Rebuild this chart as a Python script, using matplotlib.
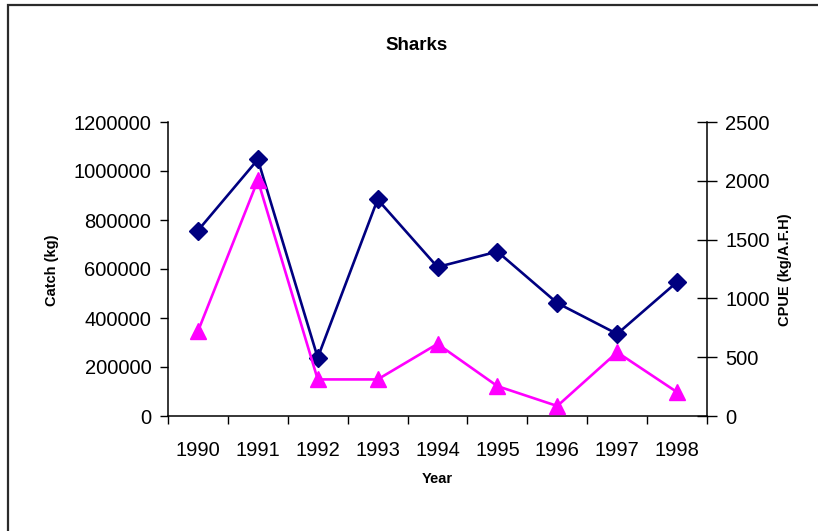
import matplotlib
matplotlib.use("Agg")
import matplotlib.pyplot as plt
from matplotlib.patches import Rectangle
from matplotlib.ticker import FixedLocator, NullFormatter

plt.rcParams["font.family"] = ["Liberation Sans", "DejaVu Sans"]

years = ["1990", "1991", "1992", "1993", "1994", "1995", "1996", "1997", "1998"]
catch_kg = [757000, 1047000, 238000, 884000, 608000, 671000, 461000, 335000, 547000]
cpue = [720, 2005, 311, 311, 613, 254, 85, 542, 203]

W, H = 818, 531
fig = plt.figure(figsize=(W / 100, H / 100), dpi=100)
fig.patch.set_facecolor("white")

# chart-area frame, runs off the right and bottom edges
fig.add_artist(Rectangle((7.5 / W, -0.05), 1.1, 1 - 5.5 / H + 0.05,
                         transform=fig.transFigure, fill=False,
                         edgecolor="#2b2b2b", lw=1.6))

ax = fig.add_axes([168 / W, 1 - 416 / H, (707 - 168) / W, (416 - 122) / H])
ax2 = ax.twinx()

x = range(len(years))
ax.plot(x, catch_kg, color="#000080", lw=1.9, marker="D", ms=9,
        markeredgecolor="#000080", zorder=3)
ax2.plot(x, cpue, color="#FF00FF", lw=1.9, marker="^", ms=11,
         markeredgecolor="#FF00FF", zorder=3)

ax.set_xlim(-0.5, len(years) - 0.5)
ax.set_ylim(0, 1200000)
ax.set_yticks(range(0, 1200001, 200000))
ax.set_yticklabels([str(v) for v in range(0, 1200001, 200000)])
ax2.set_ylim(0, 2500)
ax2.set_yticks(range(0, 2501, 500))

# category boundaries carry the ticks, centres carry the labels
ax.xaxis.set_major_locator(FixedLocator([i - 0.5 for i in range(len(years) + 1)]))
ax.xaxis.set_major_formatter(NullFormatter())
ax.xaxis.set_minor_locator(FixedLocator(list(x)))
ax.set_xticklabels(years, minor=True)
ax.tick_params(axis="x", which="major", direction="out", length=6, width=1)
ax.tick_params(axis="x", which="minor", length=0, pad=18, labelsize=14.5)
ax.tick_params(axis="y", direction="out", length=6, width=1, pad=6, labelsize=14.5)
ax2.tick_params(axis="y", direction="inout", length=14, width=1, pad=6, labelsize=14.5)

for a in (ax, ax2):
    a.spines["top"].set_visible(False)
    for s in a.spines.values():
        s.set_linewidth(1.1)
ax.spines["right"].set_visible(False)
ax2.spines["left"].set_visible(False)
ax2.spines["bottom"].set_visible(False)

fig.text(417 / W, 1 - 45 / H, "Sharks", ha="center", va="center",
         fontsize=13.5, fontweight="bold")
fig.text(437 / W, 1 - 479 / H, "Year", ha="center", va="center",
         fontsize=10.5, fontweight="bold")
fig.text(52 / W, 1 - 270 / H, "Catch (kg)", ha="center", va="center",
         rotation=90, fontsize=10.5, fontweight="bold")
fig.text(785 / W, 1 - 270 / H, "CPUE (kg/A.F.H)", ha="center", va="center",
         rotation=90, fontsize=10.5, fontweight="bold")

fig.savefig("out.png", dpi=100)
